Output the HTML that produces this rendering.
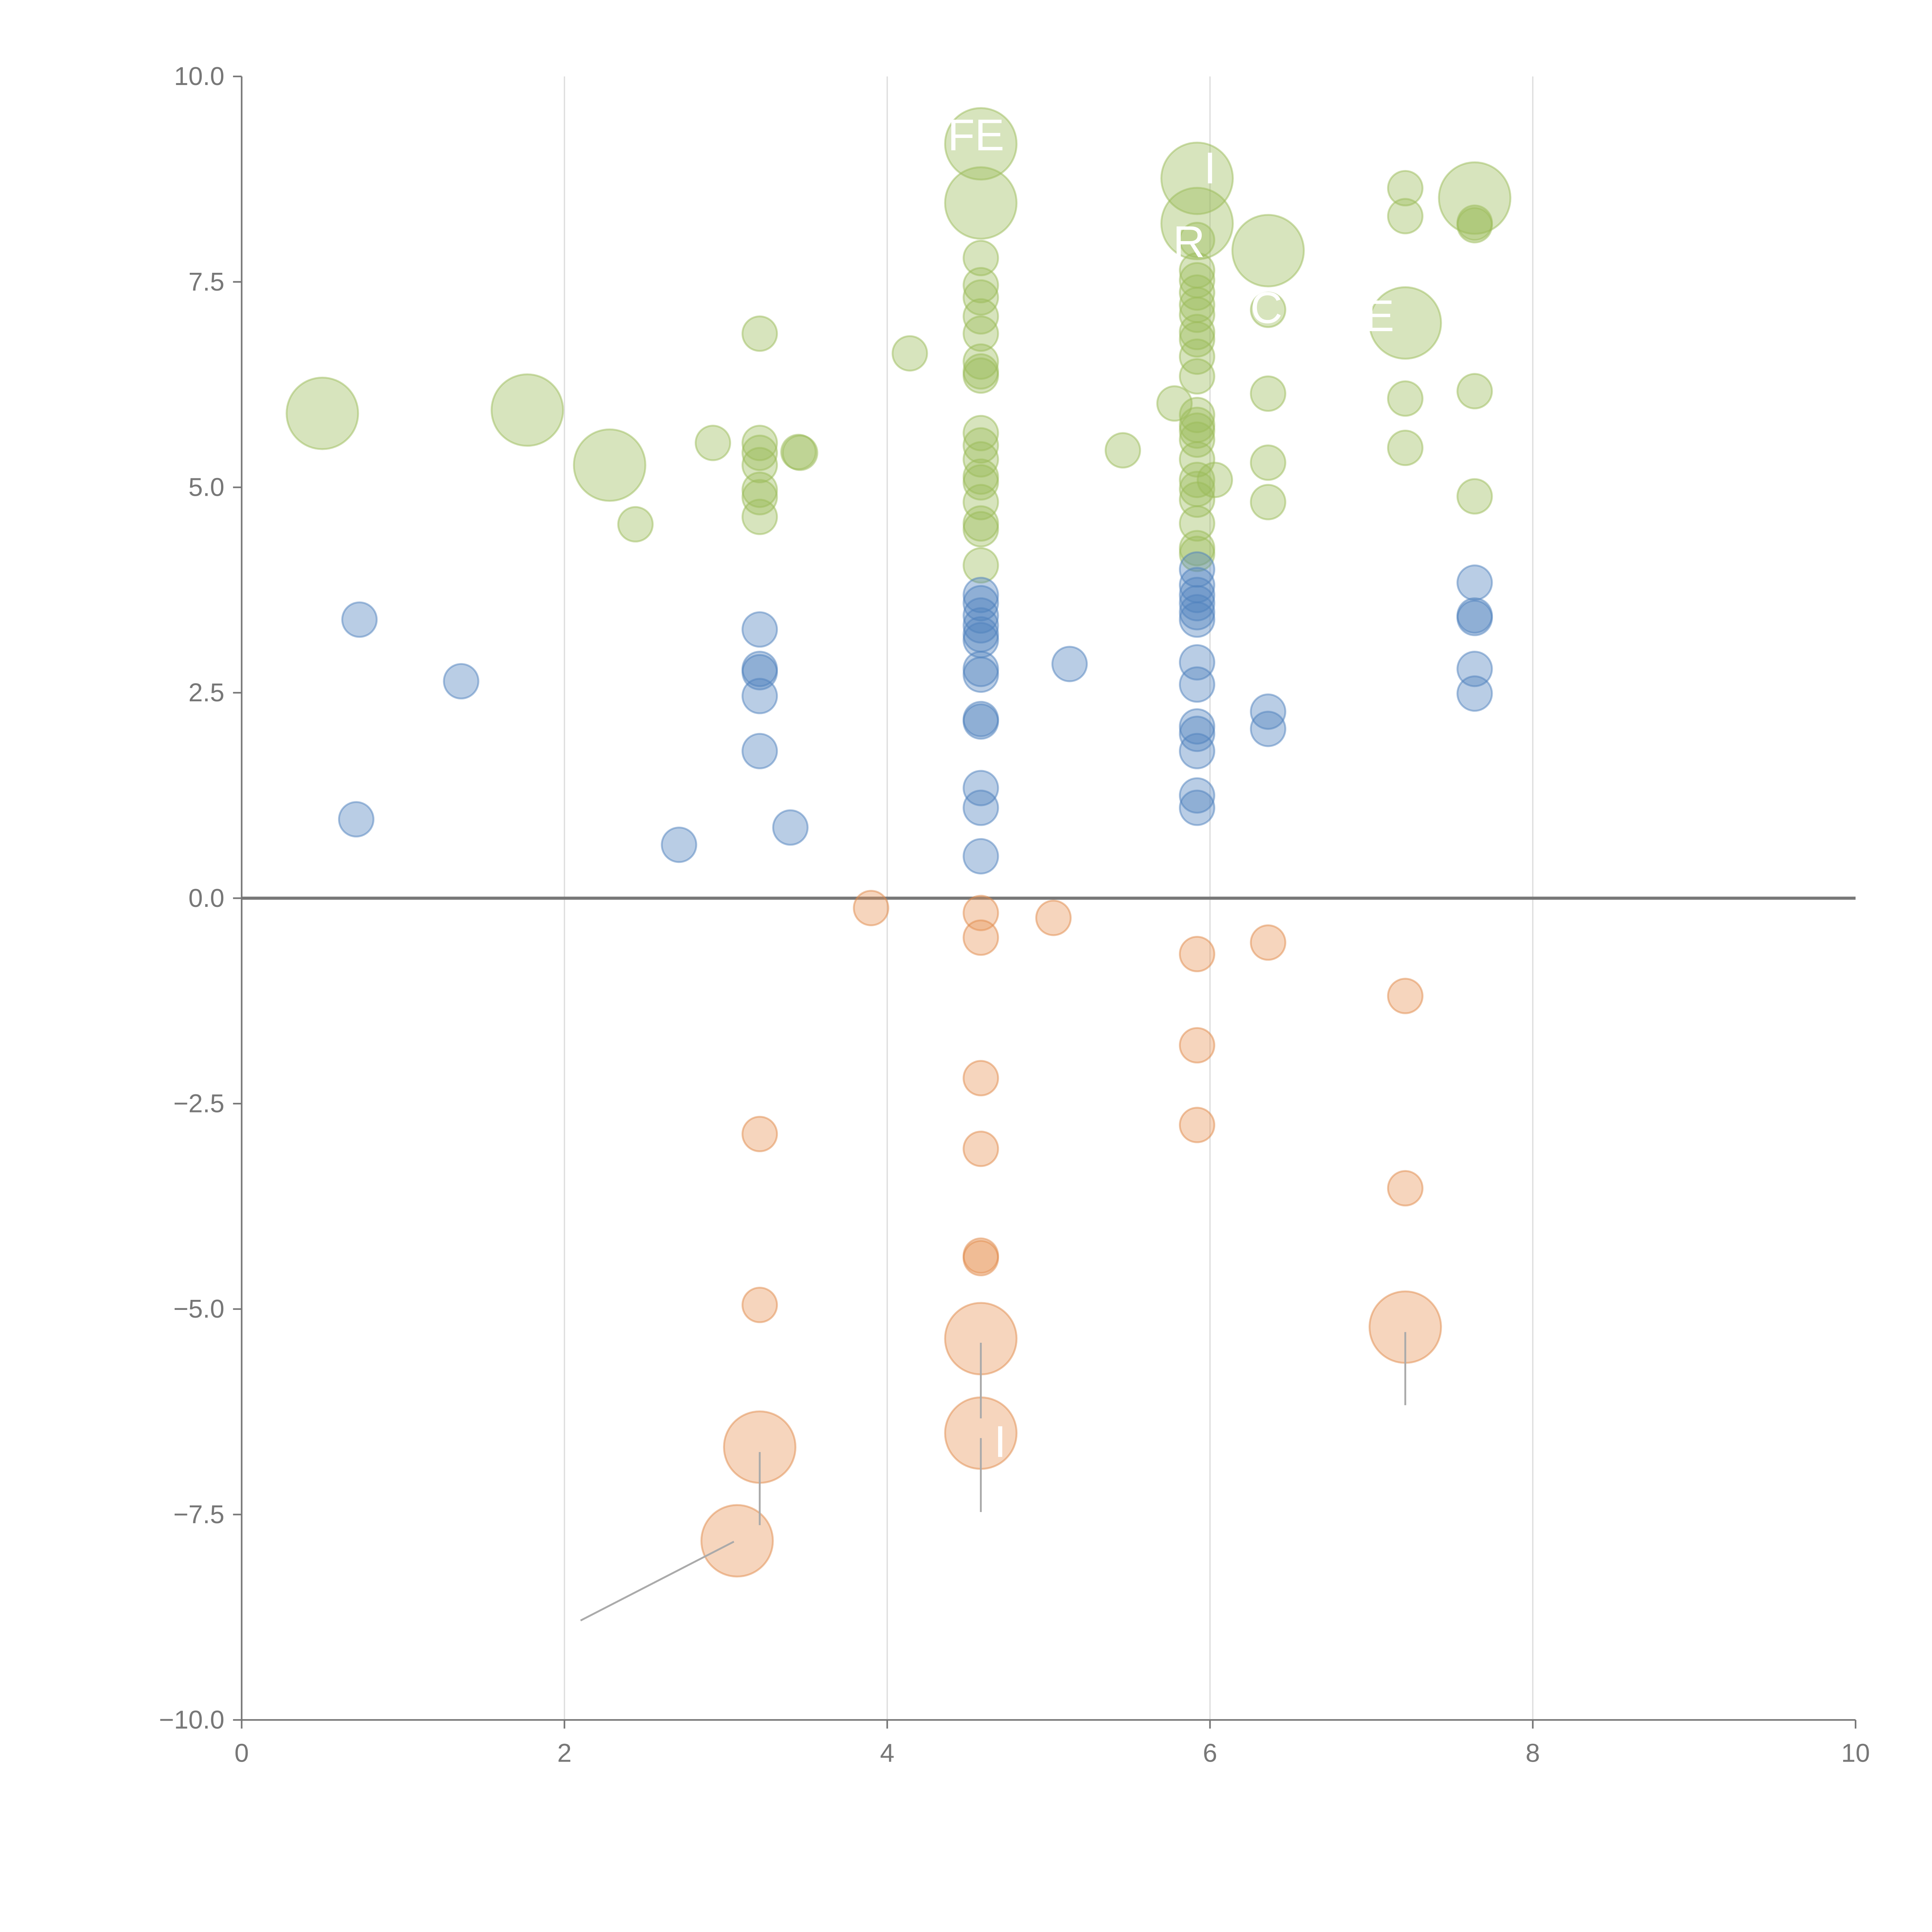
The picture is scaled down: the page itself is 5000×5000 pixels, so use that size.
<!DOCTYPE html>
<html><head><meta charset="utf-8"><style>
html,body{margin:0;padding:0;background:#fff;}
svg{display:block;font-family:"Liberation Sans",sans-serif;}
</style></head><body>
<svg id="chart" width="5000" height="5000" viewBox="0 0 1567 1567" xmlns="http://www.w3.org/2000/svg">
<g id="grid"></g>
<g id="axes"></g>
<g id="marks"></g>
<g id="labels"></g>
</svg>
<script>
const xTicks = [0, 2, 4, 6, 8, 10];
const yTicks = [10, 7.5, 5, 2.5, 0, -2.5, -5, -7.5, -10];
const yTickLabels = ["10.0", "7.5", "5.0", "2.5", "0.0", "\u22122.5", "\u22125.0", "\u22127.5", "\u221210.0"];

const blueX = [0.73,1.36,0.71,3.21,3.21,3.21,3.21,3.21,2.71,3.40,4.58,4.58,4.58,4.58,4.58,4.58,4.58,4.58,4.58,4.58,4.58,4.58,4.58,5.13,5.92,5.92,5.92,5.92,5.92,5.92,5.92,5.92,5.92,5.92,5.92,5.92,5.92,6.36,6.36,7.64,7.64,7.64,7.64,7.64];
const blueY = [3.39,2.64,0.96,3.27,2.79,2.75,2.46,1.79,0.65,0.86,3.69,3.59,3.44,3.32,3.21,3.14,2.79,2.72,2.18,2.15,1.34,1.10,0.51,2.85,4.00,3.81,3.69,3.59,3.48,3.39,2.87,2.60,2.09,2.00,1.79,1.25,1.10,2.27,2.06,3.84,3.44,3.41,2.79,2.49];

const orangeX = [3.90,4.58,4.58,4.58,4.58,4.58,4.58,5.03,5.92,5.92,5.92,6.36,7.21,7.21,3.21,3.21,3.21,4.58,4.58,7.21,3.07];
const orangeY = [-0.12,-0.18,-0.48,-2.19,-3.05,-4.35,-4.38,-0.24,-0.68,-1.79,-2.76,-0.54,-1.19,-3.53,-2.87,-4.95,-6.68,-5.36,-6.51,-5.22,-7.82];
const orangeBig = [0,0,0,0,0,0,0,0,0,0,0,0,0,0,0,0,1,1,1,1,1];

const greenX = [0.50,1.77,2.28,2.44,2.92,3.21,3.21,3.21,3.21,3.21,3.21,3.21,3.45,3.46,4.14,4.58,4.58,4.58,4.58,4.58,4.58,4.58,4.58,4.58,4.58,4.58,4.58,4.58,4.58,4.58,4.58,4.58,4.58,4.58,5.46,5.78,5.92,5.92,5.92,5.92,5.92,5.92,5.92,5.92,5.92,5.92,5.92,5.92,5.92,5.92,5.92,5.92,5.92,5.92,5.92,5.92,5.92,5.92,5.92,6.03,6.36,6.36,6.36,6.36,6.36,7.21,7.21,7.21,7.21,7.21,7.64,7.64,7.64,7.64,7.64];
const greenY = [5.90,5.94,5.27,4.55,5.54,6.87,5.54,5.42,5.27,4.97,4.88,4.64,5.43,5.42,6.63,9.18,8.46,7.79,7.46,7.31,7.08,6.87,6.53,6.41,6.36,5.66,5.51,5.34,5.13,5.06,4.82,4.56,4.49,4.05,5.45,6.02,8.76,8.21,8.01,7.64,7.52,7.37,7.22,7.10,6.89,6.80,6.59,6.35,5.88,5.76,5.69,5.58,5.34,5.09,4.98,4.85,4.56,4.26,4.19,5.09,7.88,7.16,6.14,5.30,4.82,8.64,8.30,7.00,6.08,5.48,8.52,8.22,8.19,6.17,4.89];
const greenBig = [1,1,1,0,0,0,0,0,0,0,0,0,0,0,0,1,1,0,0,0,0,0,0,0,0,0,0,0,0,0,0,0,0,0,0,0,1,1,0,0,0,0,0,0,0,0,0,0,0,0,0,0,0,0,0,0,0,0,0,0,1,0,0,0,0,0,0,1,0,0,1,0,0,0,0];

const X0=196, X1=1505, Y0=62, Y1=1395;
function sx(v){return X0+(v-0)/(10-0)*(X1-X0);}
function sy(v){return Y1-(v-(-10))/(20)*(Y1-Y0);}
const NS="http://www.w3.org/2000/svg";
function mk(tag, attrs, parent){const e=document.createElementNS(NS,tag);for(const k in attrs)e.setAttribute(k,attrs[k]);parent.appendChild(e);return e;}
const grid=document.getElementById('grid'), axes=document.getElementById('axes'), marks=document.getElementById('marks'), labels=document.getElementById('labels');

xTicks.forEach(t=>{
  if(t>0&&t<10){const g=mk('line',{x1:sx(t),x2:sx(t),y1:Y0,y2:Y1,stroke:'#dcdcdc','stroke-width':1},grid);
  
  }
  const tk=mk('line',{x1:sx(t),x2:sx(t),y1:Y1,y2:Y1+7,stroke:'#777','stroke-width':1.3},axes);
  
  
  const tx=mk('text',{x:sx(t),y:Y1+34,'text-anchor':'middle','font-size':21,fill:'#777'},axes);
  tx.textContent=t;
  
  
});
yTicks.forEach((t,i)=>{
  const tk=mk('line',{x1:X0-7,x2:X0,y1:sy(t),y2:sy(t),stroke:'#777','stroke-width':1.3},axes);
  
  
  const tx=mk('text',{x:X0-14,y:sy(t)+7,'text-anchor':'end','font-size':21,fill:'#777'},axes);
  tx.textContent=yTickLabels[i];
  
  
});
const ya=mk('line',{x1:X0,x2:X0,y1:Y0,y2:Y1,stroke:'#777','stroke-width':1.3},axes);


const xa=mk('line',{x1:X0,x2:X1,y1:Y1,y2:Y1,stroke:'#777','stroke-width':1.3},axes);


const zl=mk('line',{x1:X0,x2:X1,y1:sy(0),y2:sy(0),stroke:'#777','stroke-width':2.5},axes);



function series(xs,ys,big,fill,stroke,name){
  xs.forEach((x,i)=>{
    const r=(big&&big[i])?29:14;
    const c=mk('circle',{cx:sx(x),cy:sy(ys[i]),r:r,fill:fill,'fill-opacity':0.4,stroke:stroke,'stroke-opacity':0.5,'stroke-width':1.5},marks);
    
    
  });
}
series(greenX,greenY,greenBig,'#9bbb59','#9bbb59','green-bubble');
series(blueX,blueY,null,'#4f81bd','#4f81bd','blue-bubble');
series(orangeX,orangeY,orangeBig,'#e8955a','#e08a4a','orange-bubble');

const leaderX1=[3.21,4.58,4.58,7.21,3.05];
const leaderY1=[-6.74,-5.41,-6.57,-5.28,-7.83];
const leaderX2=[3.21,4.58,4.58,7.21,2.10];
const leaderY2=[-7.63,-6.33,-7.47,-6.17,-8.79];
leaderX1.forEach((x,i)=>{
  const l=mk('line',{x1:sx(x),y1:sy(leaderY1[i]),x2:sx(leaderX2[i]),y2:sy(leaderY2[i]),stroke:'#aaa','stroke-width':1.5},labels);
  
  
});
const labText=["FE","R","C","E","I","I"];
const labX=[4.55,5.87,6.35,7.05,6.0,4.7];
const labY=[9.1,7.8,7.0,6.9,8.7,-6.8];
labText.forEach((t,i)=>{
  const tx=mk('text',{x:sx(labX[i]),y:sy(labY[i]),'text-anchor':'middle','font-size':36,fill:'#fff'},labels);
  tx.textContent=t;
  
  
});
</script>
</body></html>
